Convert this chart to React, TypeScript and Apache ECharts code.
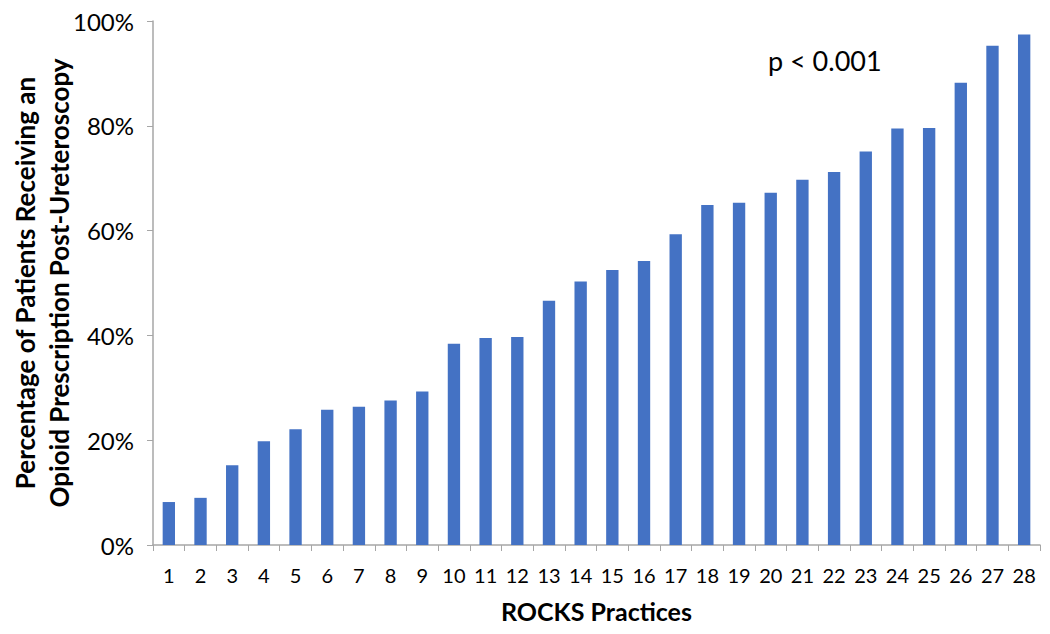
import React, { useEffect, useRef } from "react";
import * as echarts from "echarts";

const practices: string[] = [
  "1", "2", "3", "4", "5", "6", "7", "8", "9", "10", "11", "12", "13", "14",
  "15", "16", "17", "18", "19", "20", "21", "22", "23", "24", "25", "26", "27", "28",
];
const opioidPct: number[] = [
  8.2, 9.0, 15.2, 19.8, 22.1, 25.8, 26.4, 27.6, 29.3, 38.4, 39.5, 39.7, 46.6, 50.3,
  52.5, 54.2, 59.3, 64.9, 65.3, 67.2, 69.7, 71.2, 75.1, 79.5, 79.6, 88.2, 95.3, 97.4,
];
const yTitleLines: string[] = [
  "Percentage of Patients Receiving an",
  "Opioid Prescription Post-Ureteroscopy",
];
const xTitle = "ROCKS Practices";
const pText = "p < 0.001";

const FONT = "Lato, 'Open Sans', sans-serif";
const AXIS = "#a6a6a6";

export default function App() {
  const ref = useRef<HTMLDivElement>(null);
  useEffect(() => {
    if (!ref.current) return;
    const chart = echarts.init(ref.current, undefined, { renderer: "svg" });
    chart.setOption({
      animation: false,
      backgroundColor: "#ffffff",
      grid: { left: 153, right: 10, top: 21, bottom: 89 },
      xAxis: {
        type: "category",
        data: practices,
        name: xTitle,
        nameLocation: "middle",
        nameGap: 53,
        nameTextStyle: { fontFamily: FONT, fontWeight: "bold", fontSize: 25, color: "#000" },
        axisLine: { lineStyle: { color: AXIS, width: 1.5 } },
        axisTick: { show: true, length: 6, lineStyle: { color: AXIS } },
        axisLabel: { fontFamily: FONT, fontSize: 20, color: "#000", margin: 20, interval: 0 },
      },
      yAxis: {
        type: "value",
        min: 0,
        max: 100,
        interval: 20,
        axisLine: { show: true, lineStyle: { color: AXIS, width: 1.5 } },
        axisTick: { show: true, length: 6, lineStyle: { color: AXIS } },
        splitLine: { show: false },
        axisLabel: {
          fontFamily: FONT,
          fontSize: 24,
          color: "#000",
          margin: 19,
          formatter: (v: number) => `${v}%`,
        },
      },
      series: [
        {
          type: "bar",
          data: opioidPct,
          barWidth: "39%",
          itemStyle: { color: "#4472C4" },
        },
      ],
      graphic: [
        {
          type: "text",
          x: 42,
          y: 283,
          rotation: Math.PI / 2,
          style: {
            text: yTitleLines.join("\n"),
            fontFamily: FONT,
            fontWeight: "bold",
            fontSize: 26,
            lineHeight: 34,
            fill: "#000",
            align: "center",
            verticalAlign: "middle",
          },
        },
        {
          type: "text",
          x: 768,
          y: 60,
          style: {
            text: pText,
            fontFamily: FONT,
            fontSize: 27,
            fill: "#000",
            align: "left",
            verticalAlign: "middle",
          },
        },
      ],
    });
    return () => chart.dispose();
  }, []);
  return (
    <div
      ref={ref}
      style={{ position: "fixed", left: 0, top: 0, width: 1050, height: 634 }}
    />
  );
}
